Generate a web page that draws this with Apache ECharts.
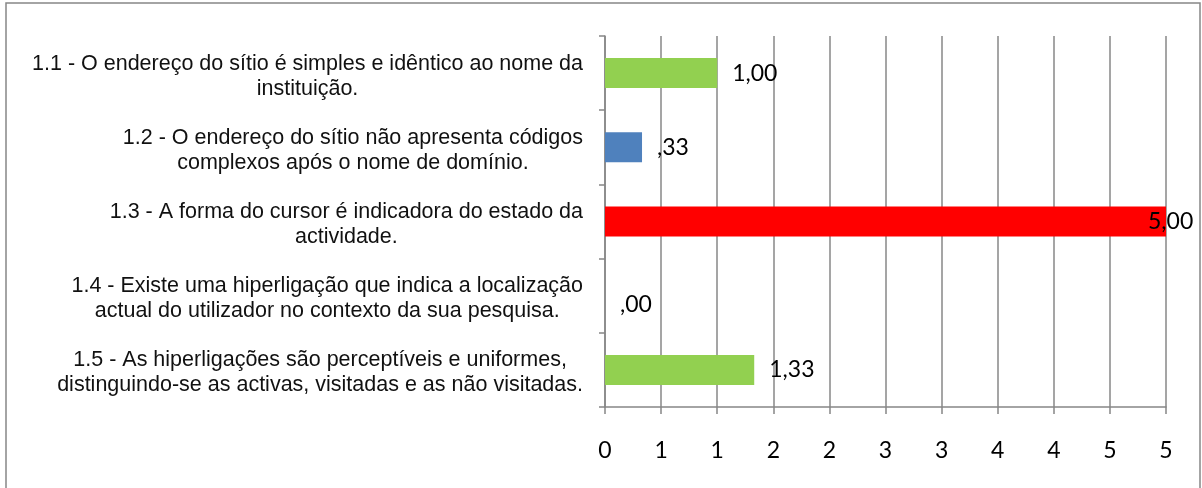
<!DOCTYPE html>
<html>
<head>
<meta charset="utf-8">
<script src="https://cdn.jsdelivr.net/npm/echarts@6/dist/echarts.min.js"></script>
<style>
  html, body { margin: 0; padding: 0; background: #fff; }
  #chart { width: 1202px; height: 488px; }
</style>
</head>
<body>
<div id="chart"></div>
<script>
// dados
const categories = [
  '1.1 - O endereço do sítio é simples e idêntico ao nome da\ninstituição.',
  '1.2 - O endereço do sítio não apresenta códigos\ncomplexos após o nome de domínio.',
  '1.3 - A forma do cursor é indicadora do estado da\nactividade.',
  '1.4 - Existe uma hiperligação que indica a localização\nactual do utilizador no contexto da sua pesquisa.',
  '1.5 - As hiperligações são perceptíveis e uniformes,\ndistinguindo-se as activas, visitadas e as não visitadas.'
]
const values = [1.00, 0.33, 5.00, 0.00, 1.33]
const barColors = ['#92D050', '#4F81BD', '#FF0000', '#4F81BD', '#92D050']
const xTickLabels = ['0', '1', '1', '2', '2', '3', '3', '4', '4', '5', '5']

const gray = '#878787'
const numFont = 'Lato'

function fmtValue(v) {
  // formato tipo Excel: ",33", "1,00"
  return v.toFixed(2).replace('.', ',').replace(/^0/, '')
}

const seriesData = values.map((v, i) => {
  const item = { value: v, itemStyle: { color: barColors[i] } }
  if (v >= 5) {
    item.label = { offset: [-33, 0] }
  } else if (v === 0) {
    item.label = { offset: [0, 9] }
  }
  return item
})

const myChart = echarts.init(document.getElementById('chart'))
const option = {
  animation: false,
  grid: {
    left: 605,
    right: 36,
    top: 36,
    bottom: 81
  },
  xAxis: {
    type: 'value',
    min: 0,
    max: 5,
    interval: 0.5,
    axisLine: { show: true, lineStyle: { color: gray, width: 1.5 } },
    axisTick: { show: true, length: 7, lineStyle: { color: gray, width: 1.5 } },
    splitLine: { show: true, lineStyle: { color: gray, width: 1.5 } },
    axisLabel: {
      margin: 32,
      fontFamily: numFont,
      fontSize: 23,
      color: '#000',
      formatter: v => xTickLabels[Math.round(v / 0.5)]
    }
  },
  yAxis: {
    type: 'category',
    inverse: true,
    data: categories,
    axisLine: { show: true, lineStyle: { color: gray, width: 1.5 } },
    axisTick: { show: true, length: 6, lineStyle: { color: gray, width: 1.5 } },
    splitLine: { show: false },
    axisLabel: {
      margin: 22,
      align: 'right',
      padding: [6, 0, 0, 0],
      formatter: v => v.split('\n').map(s => '{c|' + s + '}').join('\n'),
      rich: {
        c: {
          align: 'center',
          fontFamily: '"Liberation Sans", Arial, sans-serif',
          fontSize: 21.5,
          lineHeight: 25,
          color: '#111'
        }
      }
    }
  },
  series: [
    {
      type: 'bar',
      barWidth: 30,
      data: seriesData,
      label: {
        show: true,
        position: 'right',
        distance: 15,
        fontFamily: numFont,
        fontSize: 23,
        color: '#000',
        formatter: p => fmtValue(p.value)
      }
    }
  ],
  graphic: [
    {
      type: 'rect',
      silent: true,
      shape: { x: 6, y: 3, width: 1194, height: 500 },
      style: { fill: null, stroke: gray, lineWidth: 1.5 }
    }
  ]
}
myChart.setOption(option)
</script>
</body>
</html>
